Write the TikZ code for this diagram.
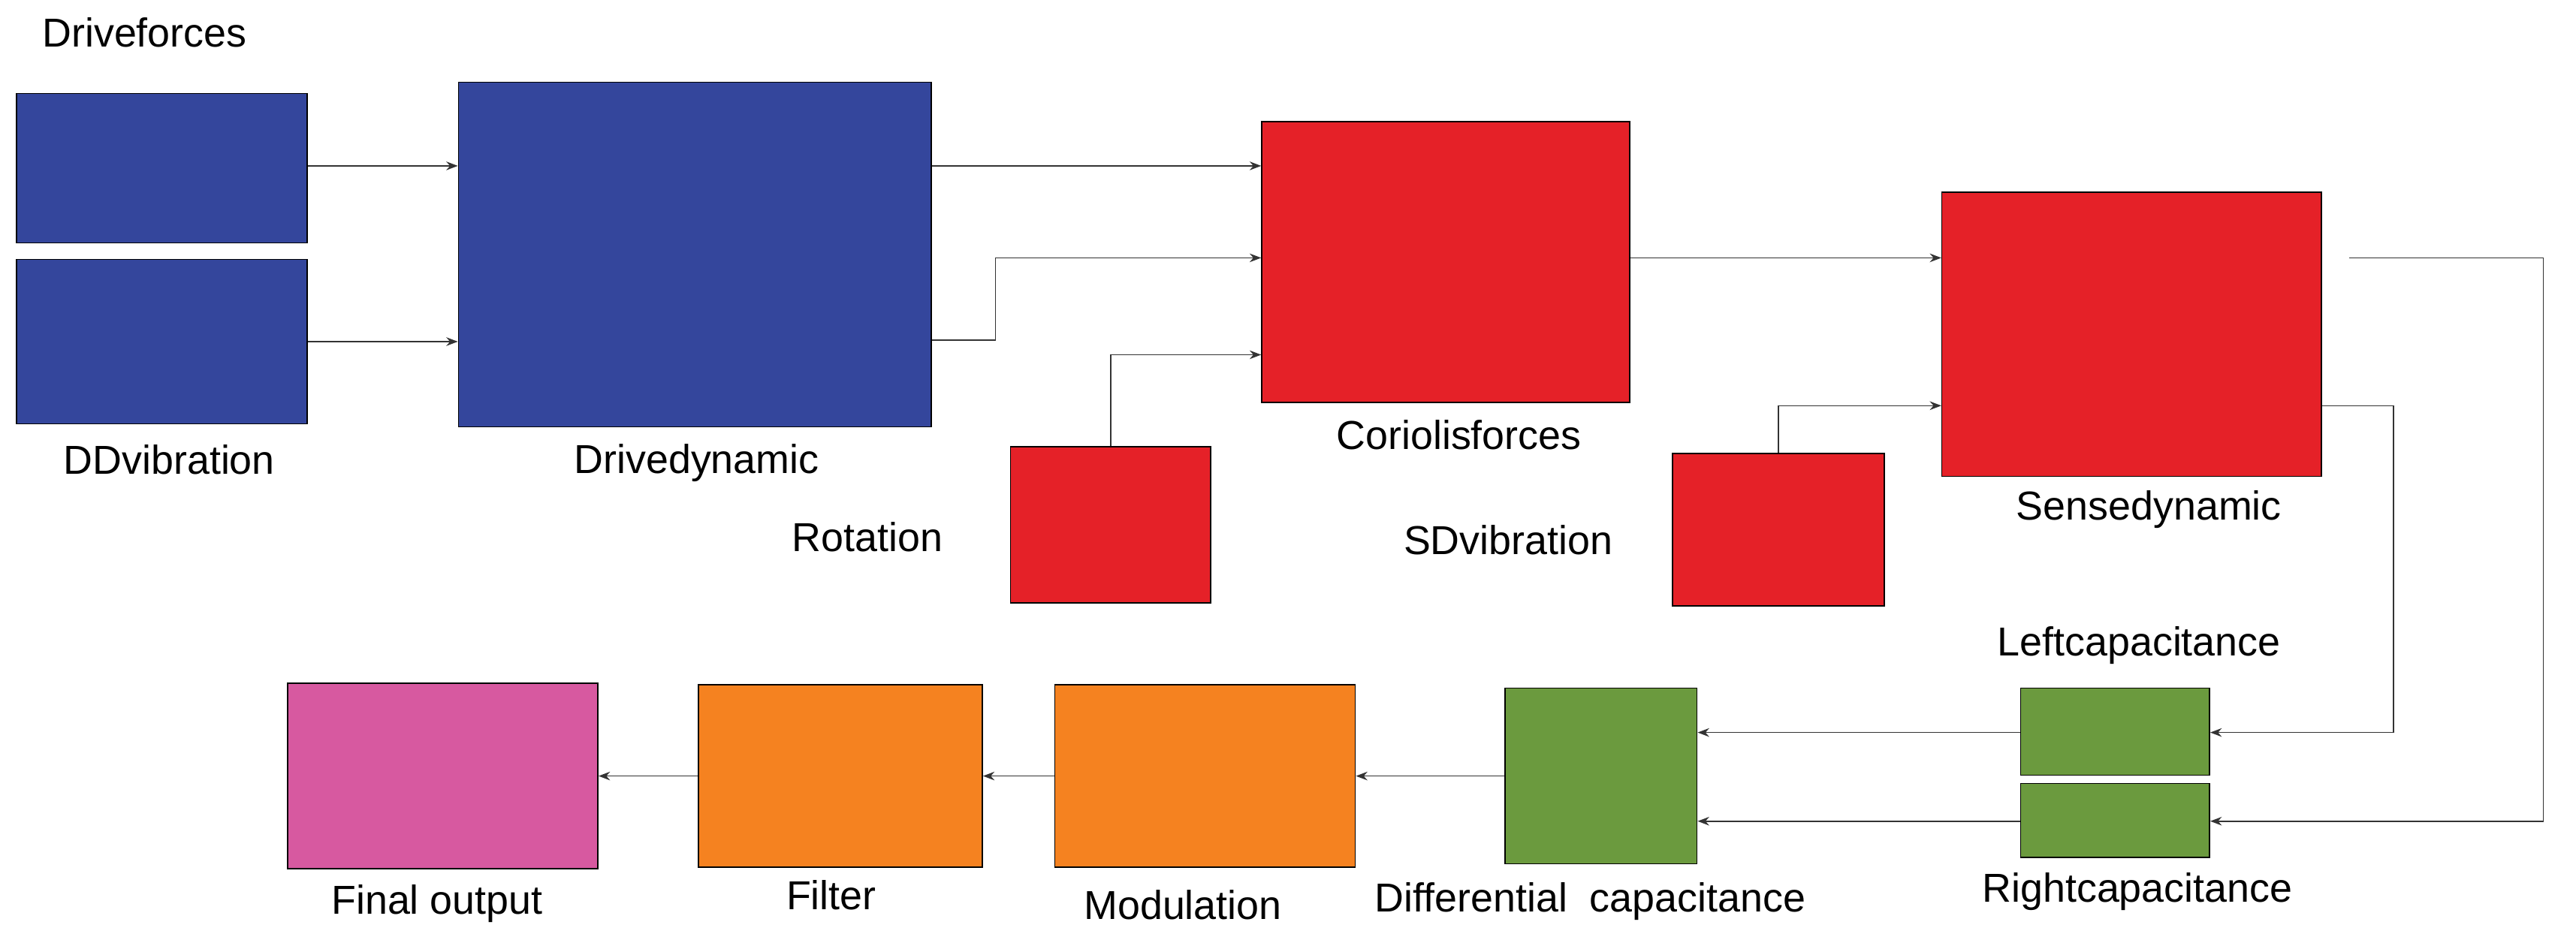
\documentclass[tikz,border=0pt]{standalone}
\usepackage{fontspec}
\setmainfont{Liberation Sans}
\usetikzlibrary{arrows.meta}
\definecolor{dblue}{HTML}{34469C}
\definecolor{dred}{HTML}{E52128}
\definecolor{dgreen}{HTML}{6B9A3E}
\definecolor{dorange}{HTML}{F58220}
\definecolor{dpink}{HTML}{D759A0}
\begin{document}
\begin{tikzpicture}[x=0.02cm,y=-0.02cm,
  blk/.style={draw=black,thin,inner sep=0pt},
  lbl/.style={font=\fontsize{14}{16}\selectfont},
  >={Stealth[length=4pt,width=3pt]}]
\useasboundingbox (0,0) rectangle (1568,574);
\begin{scope}[every node/.style={blk}]
    \node[fill=dblue,minimum width=3.54cm,minimum height=1.82cm] (dd1) at (98.5,102.5) {};
    \node[fill=dblue,minimum width=3.54cm,minimum height=2.0cm] (dd2) at (98.5,208) {};
    \node[fill=dblue,minimum width=5.76cm,minimum height=4.2cm] (drive) at (423,155) {};
    \node[fill=dred,minimum width=4.48cm,minimum height=3.42cm] (cor) at (880,159.5) {};
    \node[fill=dred,minimum width=2.44cm,minimum height=1.9cm] (rot) at (676,319.5) {};
    \node[fill=dred,minimum width=4.62cm,minimum height=3.46cm] (sense) at (1297.5,203.5) {};
    \node[fill=dred,minimum width=2.58cm,minimum height=1.86cm] (sdv) at (1082.5,322.5) {};
    \node[fill=dgreen,minimum width=2.3cm,minimum height=1.06cm] (lcap) at (1287.5,445.5) {};
    \node[fill=dgreen,minimum width=2.3cm,minimum height=0.9cm] (rcap) at (1287.5,499.5) {};
    \node[fill=dgreen,minimum width=2.34cm,minimum height=2.14cm] (diff) at (974.5,472.5) {};
    \node[fill=dorange,minimum width=3.66cm,minimum height=2.22cm] (mod) at (733.5,472.5) {};
    \node[fill=dorange,minimum width=3.46cm,minimum height=2.22cm] (filt) at (511.5,472.5) {};
    \node[fill=dpink,minimum width=3.78cm,minimum height=2.26cm] (final) at (269.5,472.5) {};
\end{scope}

\begin{scope}[every node/.style={lbl}]
    \node (tforce) at (88,20) {Driveforces};
    \node (tddv) at (103,280) {DDvibration};
    \node (tdrive) at (424,282) {Drivedynamic};
    \node (trot) at (528,327) {Rotation};
    \node (tcor) at (888,265) {Coriolisforces};
    \node (tsdv) at (918,329) {SDvibration};
    \node (tsense) at (1308,310) {Sensedynamic};
    \node (tlcap) at (1302,393) {Leftcapacitance};
    \node (trcap) at (1301,543) {Rightcapacitance};
    \node (tdiff) at (968,549) {Differential\ \ capacitance};
    \node (tmod) at (720,551) {Modulation};
    \node (tfilt) at (506,545) {Filter};
    \node (tfinal) at (266,550) {Final output};
\end{scope}

\coordinate (sout) at (1430,157);
\begin{scope}[thin,draw=black!80]
    \draw[->] (dd1.east |- 0,101) -- (drive.west |- 0,101);
    \draw[->] (dd2.east |- 0,208) -- (drive.west |- 0,208);
    \draw[->] (drive.east |- 0,101) -- (cor.west |- 0,101);
    \draw[->] (drive.east |- 0,207) -- (606,207) -- (606,157) -- (cor.west |- 0,157);
    \draw[->] (rot.north) -- (676,216) -- (cor.west |- 0,216);
    \draw[->] (cor.east |- 0,157) -- (sense.west |- 0,157);
    \draw[->] (sdv.north) -- (1082.5,247) -- (sense.west |- 0,247);
    \draw[->] (sense.east |- 0,247) -- (1457,247) -- (1457,446) -- (lcap.east |- 0,446);
    \draw[->] (sout) -- (1548,157) -- (1548,500) -- (rcap.east |- 0,500);
    \draw[->] (lcap.west |- 0,446) -- (diff.east |- 0,446);
    \draw[->] (rcap.west |- 0,500) -- (diff.east |- 0,500);
    \draw[->] (diff) -- (mod);
    \draw[->] (mod) -- (filt);
    \draw[->] (filt) -- (final);
\end{scope}
\end{tikzpicture}
\end{document}
